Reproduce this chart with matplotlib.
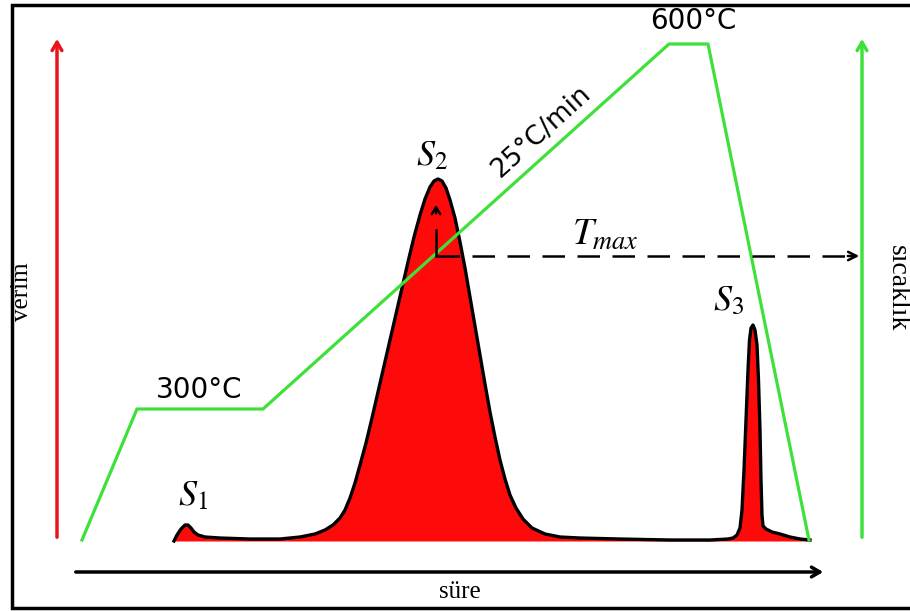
import numpy as np
import matplotlib
matplotlib.use("Agg")
import matplotlib.pyplot as plt

plt.rcParams['mathtext.fontset'] = 'stix'

# sicaklik programi (piksel koordinatlari, y asagi dogru)
temp_x = [82, 137, 263, 669, 708, 809]
temp_y = [540, 409, 409, 44, 44, 540]

# verim egrisi (S1, S2, S3 piklari)
verim_x = [174, 177, 181, 185, 188, 191, 194, 198, 205, 220, 250, 280, 300,
           305, 315, 325, 333, 340, 345, 350, 355, 360, 366, 372, 378, 384, 390,
           396, 402, 408, 414, 420, 425, 430, 434, 438, 442, 446, 450, 455, 460,
           465, 470, 475, 480, 485, 490, 495, 500, 505, 510, 516, 523, 532, 545,
           560, 580, 620, 670, 710, 728,
           733, 737, 740, 742, 744, 746, 748, 749.5, 751, 753, 755, 757, 758.5,
           760, 761, 762, 763, 766, 772, 780, 790, 800, 810]
verim_y = [541, 535, 529, 525, 525, 528, 532, 535, 537, 538, 539, 539, 537,
           536, 534, 530, 525, 518, 510, 498, 483, 465, 443, 418, 392, 366, 340,
           314, 288, 262, 237, 215, 199, 187, 181, 179, 181, 188, 200, 218, 242,
           268, 297, 326, 355, 384, 412, 437, 460, 479, 495, 508, 519, 528, 534,
           537, 538, 539, 540, 540, 539,
           538, 535, 528, 510, 470, 420, 370, 340, 328, 325, 330, 345, 380,
           430, 480, 515, 526, 529, 532, 534, 537, 539, 540]
taban = 541

green = '#3fe03a'
red = '#ff0a0a'

fig = plt.figure(figsize=(9.1, 6.11), dpi=100)
ax = fig.add_axes([0, 0, 1, 1])
ax.set_xlim(0, 910)
ax.set_ylim(611, 0)
ax.axis('off')

# cerceve
ax.plot([910, 12, 12, 910], [5, 5, 608, 608], color='black', lw=2.5, solid_joinstyle='miter')

# eksen oklari
ax.annotate('', xy=(57, 36), xytext=(57, 540),
            arrowprops=dict(arrowstyle='->,head_length=0.6,head_width=0.35', color='#e8141c', lw=2.5))
ax.annotate('', xy=(862, 36), xytext=(862, 540),
            arrowprops=dict(arrowstyle='->,head_length=0.6,head_width=0.35', color=green, lw=2.5))
ax.annotate('', xy=(826, 572), xytext=(73, 572),
            arrowprops=dict(arrowstyle='->,head_length=0.6,head_width=0.35', color='black', lw=2.5))

# verim egrisi
ax.fill_between(verim_x, verim_y, taban, color=red, lw=0)
ax.plot(verim_x, verim_y, color='black', lw=2.4, solid_joinstyle='round')

# sicaklik programi
ax.plot(temp_x, temp_y, color=green, lw=2.3)

# Tmax oklari
ax.plot([437, 850], [256, 256], color='black', lw=1.8, dashes=(9, 5))
ax.annotate('', xy=(862, 256), xytext=(845, 256),
            arrowprops=dict(arrowstyle='->,head_length=0.6,head_width=0.3', color='black', lw=1.8))
ax.plot([436, 436], [256, 230], color='black', lw=1.8)
ax.annotate('', xy=(436, 202), xytext=(436, 216),
            arrowprops=dict(arrowstyle='->,head_length=0.5,head_width=0.3', color='black', lw=1.8))

# yazilar
ax.text(693, 21, '600°C', fontsize=20, family='DejaVu Sans', ha='center', va='center')
ax.text(199, 390, '300°C', fontsize=20, family='DejaVu Sans', ha='center', va='center')
ax.text(541, 132, '25°C/min', fontsize=19, family='DejaVu Sans', ha='center', va='center',
        rotation=42, rotation_mode='anchor')
ax.text(193, 495, r'$S_{\mathit{1}}$', fontsize=26, ha='center', va='center')
ax.text(432, 155, r'$S_{\mathit{2}}$', fontsize=26, ha='center', va='center')
ax.text(728, 300, r'$S_{\mathit{3}}$', fontsize=26, ha='center', va='center')
ax.text(605, 235, r'$T_{max}$', fontsize=27, ha='center', va='center')
ax.text(22, 292, 'verim', fontsize=18, family='Liberation Serif', rotation=90,
        ha='center', va='center')
ax.text(897, 288, 'sıcaklık', fontsize=20, family='Liberation Serif', rotation=270,
        ha='center', va='center')
ax.text(460, 592, 'süre', fontsize=18, family='Liberation Serif', ha='center', va='center')

fig.savefig('out.png', dpi=100)
